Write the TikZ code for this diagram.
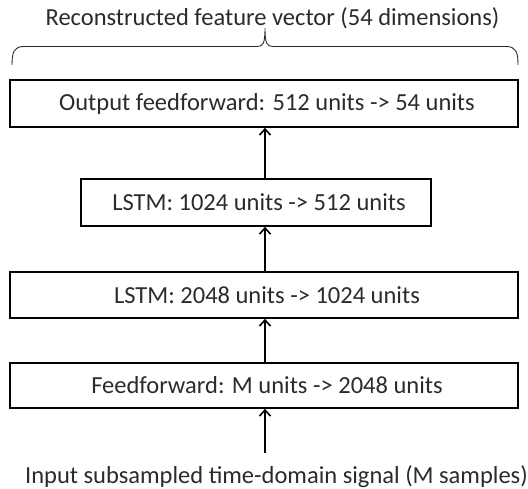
\documentclass[tikz,border=0pt]{standalone}
\usepackage{fontspec}
\setmainfont{Carlito}
\usetikzlibrary{arrows.meta}
\definecolor{ink}{HTML}{2B2B2B}
\newcommand{\nudge}{\hspace*{6pt}}
\begin{document}
\begin{tikzpicture}[x=1pt,y=-1pt,
  layer/.style={draw=black, line width=1.7pt, inner sep=0pt, text=ink,
    font=\fontsize{24.5}{28}\selectfont},
  caption/.style={text=ink, inner sep=0pt, anchor=base, font=\fontsize{24.5}{28}\selectfont},
  flow/.style={line width=1.6pt, draw=black, -{Straight Barb[length=6pt,width=11pt,line width=1.6pt]}},
  bracket/.style={draw=ink, line width=0.9pt}]
\useasboundingbox (0,0) rectangle (528,488);

% network layers, top to bottom
\node[layer, minimum width=508pt, minimum height=47pt] (out) at (264,103.5) {\nudge Output feedforward: 512 units -> 54 units};
\node[layer, minimum width=350pt, minimum height=47pt] (l2)  at (256,202.5) {\nudge LSTM: 1024 units -> 512 units};
\node[layer, minimum width=508pt, minimum height=46pt] (l1)  at (264,295)   {\nudge LSTM: 2048 units -> 1024 units};
\node[layer, minimum width=508pt, minimum height=45pt] (ff)  at (264,385.5) {\nudge Feedforward: M units -> 2048 units};

% input and output captions
\node[caption] (inlbl)  at (276.5,483) {Input subsampled time-domain signal (M samples)};
\node[caption] (outlbl) at (272.5,25)  {Reconstructed feature vector (54 dimensions)};

% data flow
\coordinate (src) at (265,453);
\draw[flow] (src) -- (src |- ff.south);
\draw[flow] (ff.north -| src) -- (src |- l1.south);
\draw[flow] (l1.north -| src) -- (src |- l2.south);
\draw[flow] (l2.north -| src) -- (src |- out.south);

% curly bracket over the output vector
\coordinate (bl) at (12,65);
\coordinate (br) at (518,65);
\coordinate (tip) at (265,28);
\draw[bracket] (bl) .. controls (12,52) and (14,46.5) .. (24,46.5)
  -- (257,46.5) .. controls (263,46.5) and (265,44) .. (tip)
  .. controls (265,44) and (267,46.5) .. (273,46.5)
  -- (506,46.5) .. controls (516,46.5) and (518,52) .. (br);
\end{tikzpicture}
\end{document}
